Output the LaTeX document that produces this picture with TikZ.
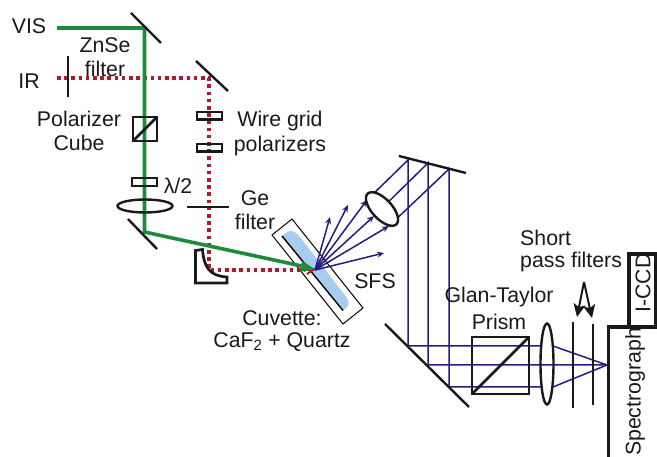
\documentclass[tikz,border=0pt]{standalone}
\usepackage{fontspec}
\setmainfont{Liberation Sans}
\usetikzlibrary{arrows.meta}
\definecolor{beamgreen}{RGB}{32,138,60}
\definecolor{beamred}{RGB}{178,24,44}
\definecolor{beamblue}{RGB}{42,26,128}
\definecolor{cuvetteblue}{RGB}{168,204,240}
\tikzset{
  txt/.style={font=\fontsize{21.3}{23}\selectfont, inner sep=0pt, text=black!90},
  optic/.style={draw=black!90, line width=2.4pt},
  thickoptic/.style={draw=black!90, line width=2.7pt},
  vislaser/.style={draw=beamgreen, line width=3.6pt},
  irlaser/.style={draw=beamred, line width=3.6pt, dash pattern=on 3.6pt off 3.6pt},
  sfsray/.style={draw=beamblue, line width=1.5pt},
  sfstip/.style={-{Stealth[length=7pt,width=6pt]}},
  filtertipstyle/.style={draw=black!90, line width=2pt, -{Stealth[length=13pt,width=12pt,inset=3pt]}}
}

\begin{document}
\begin{tikzpicture}[x=1pt,y=-1pt]
  \useasboundingbox (0,0) rectangle (657,457);

  % cuvette
  \draw[line width=1pt] (272,235) -- (292,219) -- (363,308) -- (343,324) -- cycle;
  \fill[cuvetteblue] (282,236) -- (288,231.5) .. controls (292,230) and (296,232) .. (300,237) -- (347,298)
    .. controls (350,303) and (349,307) .. (343,310.5) -- cycle;
  \draw[line width=1.4pt] (282,236) -- (343,310.5);

  % beams
  \coordinate (focus) at (315,270);
  \draw[irlaser] (57,78) -- (209,78) -- (209,270) -- (305,270);
  \draw[beamred, line width=2pt] (305,270) -- (313,270) -- (307,274);
  \draw[vislaser] (57,28) -- (144.5,28) -- (144.5,232) -- (304,266.5);
  \fill[beamgreen] (315,269) -- (302,261) -- (300,272) -- cycle;

  % fan of rays
  \draw[sfsray, sfstip] (focus) -- (330,217);
  \draw[sfsray, sfstip] (focus) -- (348,205);
  \draw[sfsray, sfstip] (focus) -- (367,200);
  \draw[sfsray, sfstip] (focus) -- (374,216);
  \draw[sfsray, sfstip] (focus) -- (389,226);
  \draw[sfsray, sfstip] (focus) -- (384,253);
  \draw[sfsray] (367,200) -- (408,160) -- (408,346) -- (542,346);
  \draw[sfsray] (374,216) -- (428,163) -- (428,365) -- (607,365);
  \draw[sfsray] (389,226) -- (449,169) -- (449,387) -- (542,387);
  \draw[sfsray] (553,346) -- (607,365) -- (553,387);

  % mirrors
  \draw[optic] (131,13) -- (161,43);
  \draw[optic] (196,61) -- (228,91);
  \draw[optic] (128,219) -- (157,249);
  \draw[optic] (399,156) -- (466,173);
  \draw[optic] (385,324) -- (469,407);

  % vis path
  \draw[optic] (68,56) -- (68,97);
  \draw[thickoptic] (133,117) rectangle ++(24,24);
  \draw[thickoptic] (133,141) -- ++(24,-24);
  \draw[thickoptic] (132,178) rectangle ++(25,8);
  \draw[optic] (145,206) ellipse [x radius=27.5pt, y radius=6.5pt];

  % ir path
  \draw[thickoptic] (197,112) rectangle ++(25,7.5);
  \draw[thickoptic] (197,144) rectangle ++(25,7.5);
  \draw[optic] (187,207) -- ++(42,0);
  \draw[thickoptic, line join=miter] (195.5,250.5) -- ++(7,-1) .. controls (204,268) and (210,276) .. (227,277) -- ++(0,6) -- (195.5,283) -- cycle;

  % collection optics
  \draw[optic, fill=white, rotate around={-47:(382,209)}] (382,209) ellipse [x radius=21pt, y radius=10pt];
  \draw[thickoptic] (472,337) rectangle (529,394);
  \draw[thickoptic] (472,394) -- (529,337);
  \draw[optic] (547,364) ellipse [x radius=6.5pt, y radius=40.5pt];
  \draw[optic] (573,322) -- (573,408);
  \draw[optic] (593,324) -- (593,405);
  \coordinate (filtertip) at (584,282);
  \draw[filtertipstyle] (filtertip) -- (577,317);
  \draw[filtertipstyle] (filtertip) -- (592,318);

  % spectrograph
  \draw[draw=black!90, line width=3.5pt] (608.5,457) -- (608.5,327) -- (657,327);
  \draw[draw=black!90, line width=3.5pt] (629,327) -- (629,254) -- (655.5,254) -- (655.5,327);

  % labels
  \node[txt] (vis) at (29,26) {VIS};
  \node[txt] (ir) at (29,81) {IR};
  \node[txt] (znse) at (105,45) {ZnSe};
  \node[txt] (znsefilter) at (105,69) {filter};
  \node[txt] (polarizer) at (79,119) {Polarizer};
  \node[txt] (cube) at (79,143) {Cube};
  \node[txt] (halfwave) at (178,186) {λ/2};
  \node[txt] (wiregrid) at (280,121) {Wire grid};
  \node[txt] (wirepolarizers) at (280,146) {polarizers};
  \node[txt] (ge) at (255,198) {Ge};
  \node[txt] (gefilter) at (255,222) {filter};
  \node[txt] (sfs) at (375,281) {SFS};
  \node[txt] (cuvette) at (282,318) {Cuvette:};
  \node[txt] (windows) at (282,342) {CaF\textsubscript{2} + Quartz};
  \node[txt, anchor=west] (short) at (520,238) {Short};
  \node[txt, anchor=west] (passfilters) at (520,262) {pass filters};
  \node[txt] (glantaylor) at (499,297) {Glan-Taylor};
  \node[txt] (prism) at (499,322) {Prism};
  \node[txt, rotate=90] (iccd) at (643,283) {I-CCD};
  \node[txt, rotate=90] (spectrograph) at (635,392) {Spectrograph};
\end{tikzpicture}
\end{document}
